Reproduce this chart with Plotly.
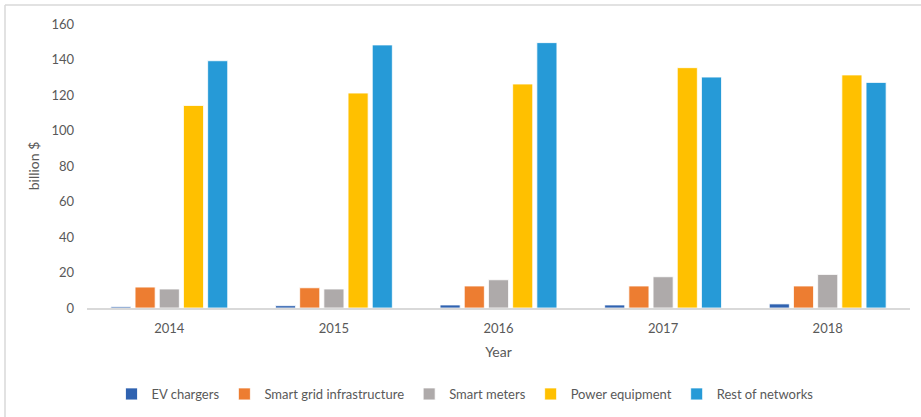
import plotly.graph_objects as go

years = ["2014", "2015", "2016", "2017", "2018"]
ev_chargers = [0.7, 1.3, 1.7, 1.7, 2.3]
smart_grid = [11.8, 11.4, 12.4, 12.4, 12.4]
smart_meters = [10.7, 10.7, 15.9, 17.6, 18.9]
power_equipment = [114.1, 121.1, 126.2, 135.4, 131.3]
rest_of_networks = [139.3, 148.2, 149.5, 130.1, 127.1]

series_names = ["EV chargers", "Smart grid infrastructure", "Smart meters",
                "Power equipment", "Rest of networks"]
series_values = [ev_chargers, smart_grid, smart_meters, power_equipment, rest_of_networks]
colors = ["#2F62B0", "#ED7D31", "#AEAAAA", "#FFC000", "#269AD7"]

font_family = "Lato, 'Open Sans', sans-serif"
gray = "#595959"

fig = go.Figure()
for name, vals, col in zip(series_names, series_values, colors):
    fig.add_trace(go.Bar(x=years, y=vals, name=name,
                         marker=dict(color=col, line=dict(color="white", width=0.8))))

W, H = 921, 417
ml, mt = 87, 24
mr = W - 910
mb = H - 308
pw, ph = W - ml - mr, H - mt - mb
bx = (5 - ml) / pw
by = (308 - 5) / ph

fig.update_layout(
    width=W, height=H,
    margin=dict(l=ml, r=mr, t=mt, b=mb, autoexpand=False),
    paper_bgcolor="white", plot_bgcolor="white",
    barmode="group", bargap=0.265, bargroupgap=0.17,
    font=dict(family=font_family, size=13, color=gray),
    xaxis=dict(showline=True, linecolor="#D9D9D9", linewidth=1.5, ticks="",
               ticklabelstandoff=8,
               title=dict(text="Year", font=dict(size=14, color=gray), standoff=12),
               tickfont=dict(size=13, color=gray)),
    yaxis=dict(range=[0, 160], dtick=20, showgrid=False, zeroline=False,
               showline=False, ticks="", ticklabelstandoff=12,
               tickfont=dict(size=13, color=gray),
               title=dict(text="billion $", font=dict(size=14, color=gray), standoff=8)),
    legend=dict(orientation="h", x=(465 - ml) / pw, xanchor="center",
                y=-(394 - 308) / ph, yanchor="middle", itemwidth=30,
                font=dict(size=13, color=gray), traceorder="normal"),
    shapes=[
        dict(type="line", xref="paper", yref="paper", x0=bx, x1=1.2, y0=by, y1=by,
             line=dict(color="#D9D9D9", width=1.5)),
        dict(type="line", xref="paper", yref="paper", x0=bx, x1=bx, y0=by, y1=-0.6,
             line=dict(color="#D9D9D9", width=1.5)),
    ],
)

fig.write_html("out.html", config={"displayModeBar": False},
               post_script="document.body.style.margin='0';document.body.style.padding='0';")
